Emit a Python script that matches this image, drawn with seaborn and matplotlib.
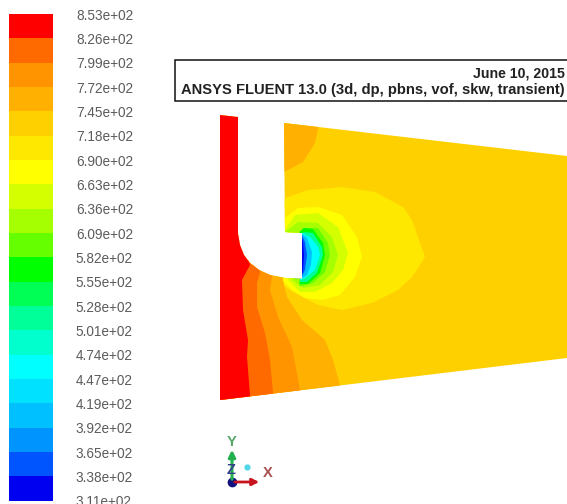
import matplotlib
matplotlib.use('Agg')
import matplotlib.pyplot as plt
from matplotlib.colors import ListedColormap
from matplotlib.patches import Polygon, Rectangle
import numpy as np
import seaborn as sns

# --- Legend data (contour levels, top to bottom) ---
level_labels = ['8.53e+02', '8.26e+02', '7.99e+02', '7.72e+02', '7.45e+02', '7.18e+02', '6.90e+02',
                '6.63e+02', '6.36e+02', '6.09e+02', '5.82e+02', '5.55e+02', '5.28e+02', '5.01e+02',
                '4.74e+02', '4.47e+02', '4.19e+02', '3.92e+02', '3.65e+02', '3.38e+02', '3.11e+02']
band_colors = ['#ff0000', '#ff6a00', '#ff9400', '#ffb000', '#ffd000', '#ffe800', '#ffff00',
               '#d4ff00', '#a6ff00', '#66ff00', '#00ff00', '#00ff55', '#00ff99', '#00ffcc',
               '#00ffff', '#00e0ff', '#00c0ff', '#0094ff', '#0055ff', '#0000f0']
band_ids = list(range(20))

# --- Geometry (image pixels) ---
domain_x = [220, 238, 238, 240, 244, 250, 259, 270, 285, 302, 302, 285, 284, 567, 567, 220]
domain_y = [115, 117, 233, 245, 255, 263, 270, 275, 278, 279, 233, 232, 123, 156, 358, 400]

# each isotherm: band index, outline x, outline y (painted back to front, clipped to the domain)
top_patch_x = [284, 320, 315, 303, 284, 270]
top_patch_y = [115, 120, 143, 162, 172, 172]
cold_5_x = [270, 285, 308, 342, 375, 403, 412, 425, 412, 398, 372, 342, 318, 295, 275]
cold_5_y = [205, 198, 190, 187, 192, 207, 220, 257, 277, 290, 303, 310, 305, 293, 280]
cold_6_x = [270, 285, 298, 318, 342, 357, 362, 355, 340, 322, 305, 292, 280]
cold_6_y = [225, 218, 208, 207, 215, 237, 257, 277, 295, 300, 298, 290, 278]
cold_7_x = [275, 285, 295, 318, 338, 348, 343, 332, 315, 300, 288]
cold_7_y = [235, 230, 215, 213, 227, 253, 270, 283, 292, 292, 280]
cold_8_x = [280, 288, 298, 318, 332, 338, 333, 320, 303, 292]
cold_8_y = [235, 230, 222, 223, 237, 255, 272, 285, 288, 280]
cold_9_x = [299, 303, 318, 328, 330, 325, 313, 302, 299]
cold_9_y = [232, 228, 228, 243, 255, 272, 283, 286, 286]
cold_10_x = [300, 304, 313, 323, 325, 320, 308, 301, 300]
cold_10_y = [232, 228, 229, 243, 255, 273, 284, 284, 284]
cold_12_x = [301, 304, 313, 322, 323, 317, 307, 301, 300]
cold_12_y = [234, 232, 233, 247, 255, 273, 282, 282, 282]
cold_14_x = [301, 302, 310, 318, 320, 315, 305, 301, 300]
cold_14_y = [234, 233, 237, 247, 255, 270, 278, 280, 280]
cold_16_x = [295, 302, 307, 312, 311, 307, 301, 295]
cold_16_y = [234, 234, 238, 252, 265, 275, 279, 279]
cold_18_x = [295, 302, 305, 307, 305, 301, 295]
cold_18_y = [235, 235, 242, 255, 270, 278, 278]
cold_19_x = [295, 301, 303, 304, 303, 301, 295]
cold_19_y = [235, 235, 242, 255, 270, 278, 278]
hot_3_x = [283, 287, 302, 325, 333, 340, 340, 215, 215, 283]
hot_3_y = [280, 297, 320, 340, 360, 385, 410, 410, 260, 260]
hot_2_x = [272, 270, 278, 292, 300, 300, 215, 215, 272]
hot_2_y = [278, 290, 317, 347, 390, 410, 410, 260, 260]
hot_1_x = [260, 257, 257, 265, 270, 273, 273, 215, 215, 260]
hot_1_y = [273, 283, 307, 333, 360, 392, 410, 410, 260, 260]
hot_0_x = [238, 238, 250, 242, 243, 248, 247, 250, 250, 210, 210, 238]
hot_0_y = [110, 233, 265, 280, 310, 340, 357, 395, 410, 410, 110, 110]

isotherms = [(3, top_patch_x, top_patch_y), (5, cold_5_x, cold_5_y), (6, cold_6_x, cold_6_y),
             (7, cold_7_x, cold_7_y), (8, cold_8_x, cold_8_y), (9, cold_9_x, cold_9_y),
             (10, cold_10_x, cold_10_y), (12, cold_12_x, cold_12_y), (14, cold_14_x, cold_14_y),
             (16, cold_16_x, cold_16_y), (18, cold_18_x, cold_18_y), (19, cold_19_x, cold_19_y),
             (3, hot_3_x, hot_3_y), (2, hot_2_x, hot_2_y), (1, hot_1_x, hot_1_y), (0, hot_0_x, hot_0_y)]

sns.set_style('white')
plt.rcParams['font.family'] = ['Liberation Sans', 'DejaVu Sans']

W, H = 567, 504
fig = plt.figure(figsize=(W / 100, H / 100), dpi=100)

# --- Main view: axes in image pixels ---
ax = fig.add_axes([0, 0, 1, 1])
ax.set_xlim(0, W)
ax.set_ylim(H, 0)
ax.axis('off')

outline = Polygon(np.column_stack([domain_x, domain_y]), closed=True, fc=band_colors[4], ec='none', zorder=1)
ax.add_patch(outline)
for i, (band, xs, ys) in enumerate(isotherms):
    patch = Polygon(np.column_stack([xs, ys]), closed=True, fc=band_colors[band], ec='none', zorder=2 + i * 0.01)
    ax.add_patch(patch)
    patch.set_clip_path(outline)

# --- Title box ---
ax.add_patch(Rectangle((174.5, 59.5), 400, 41, fc='white', ec='#111111', lw=1.1, zorder=5))
ax.text(565, 74, 'June 10, 2015', ha='right', va='center', fontsize=10.2, fontweight='bold', color='#222222', zorder=6)
ax.text(565, 90, 'ANSYS FLUENT 13.0 (3d, dp, pbns, vof, skw, transient)', ha='right', va='center',
        fontsize=10.6, fontweight='bold', color='#222222', zorder=6)

# --- Coordinate triad ---
ax.annotate('', xy=(232, 447), xytext=(232, 482), arrowprops=dict(arrowstyle='-|>', color='#22b14c', lw=2.2))
ax.annotate('', xy=(262, 482), xytext=(232, 482), arrowprops=dict(arrowstyle='-|>', color='#c8141e', lw=2))
ax.plot([232], [482], 'o', ms=6, color='#101080')
ax.plot([247], [467], 'o', ms=3.5, color='#50d8e8')
ax.text(232, 442, 'Y', ha='center', va='center', fontsize=10.5, fontweight='bold', color='#55a868')
ax.text(268, 473, 'X', ha='center', va='center', fontsize=10.5, fontweight='bold', color='#a85050')
ax.text(231, 470, 'Z', ha='center', va='center', fontsize=10.5, fontweight='bold', color='#304088')

# --- Legend bar as a one-column heatmap ---
cax = fig.add_axes([9 / W, 1 - 500.7 / H, 44 / W, 486.7 / H])
sns.heatmap(np.array(band_ids).reshape(-1, 1), ax=cax, cmap=ListedColormap(band_colors), cbar=False,
            xticklabels=False, vmin=-0.5, vmax=19.5)
cax.set_yticks(range(len(level_labels)))
cax.set_yticklabels(level_labels, rotation=0, fontsize=9.8, color='#5c5c5c', ha='left')
cax.yaxis.tick_right()
cax.tick_params(axis='y', length=0, pad=16.5, right=False)

fig.savefig('out.png', dpi=100)
